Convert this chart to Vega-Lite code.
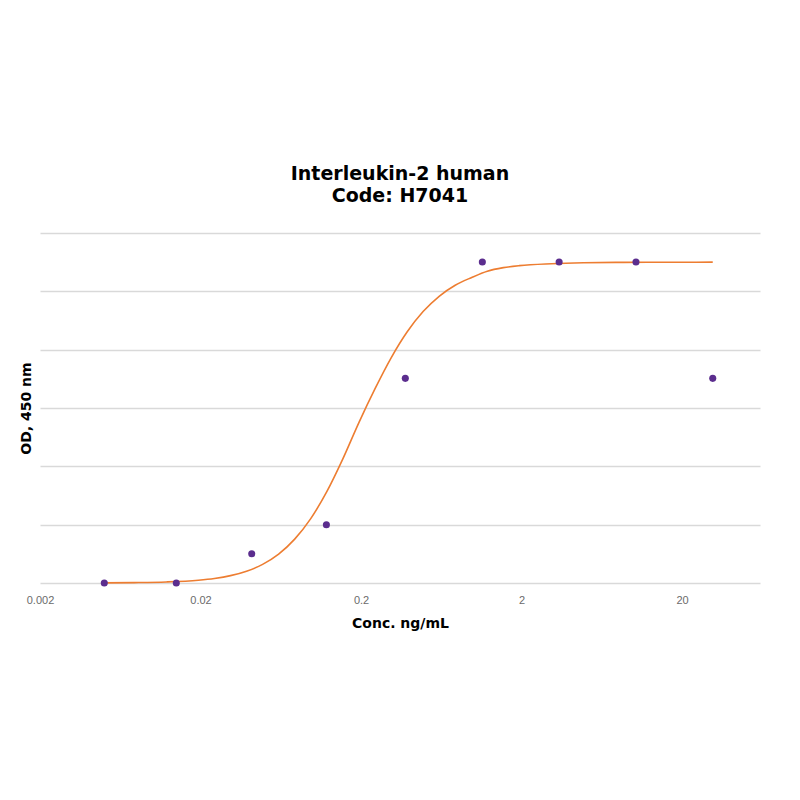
{
  "$schema": "https://vega.github.io/schema/vega-lite/v6.json",
  "width": 720,
  "height": 350,
  "autosize": "none",
  "padding": {"left": 40, "top": 233, "right": 40, "bottom": 217},
  "background": "white",
  "title": {
    "text": ["Interleukin-2 human", "Code: H7041"],
    "font": "DejaVu Sans",
    "fontSize": 19,
    "fontWeight": "bold",
    "color": "#000000",
    "lineHeight": 22,
    "offset": 27,
    "anchor": "middle"
  },
  "config": {"view": {"stroke": null}},
  "datasets": {
    "measured": [
      {"conc": 0.00503, "od": 0.0},
      {"conc": 0.01413, "od": 0.0},
      {"conc": 0.0417, "od": 0.25},
      {"conc": 0.1217, "od": 0.5},
      {"conc": 0.3776, "od": 1.754},
      {"conc": 1.14, "od": 2.751},
      {"conc": 3.43, "od": 2.751},
      {"conc": 10.33, "od": 2.751},
      {"conc": 31.07, "od": 1.754}
    ],
    "fit": [
      {"conc": 0.00503, "od": 0.0015},
      {"conc": 0.00772, "od": 0.0035},
      {"conc": 0.01224, "od": 0.009},
      {"conc": 0.0194, "od": 0.024},
      {"conc": 0.02442, "od": 0.039},
      {"conc": 0.03075, "od": 0.063},
      {"conc": 0.03871, "od": 0.101},
      {"conc": 0.04873, "od": 0.16},
      {"conc": 0.06135, "od": 0.248},
      {"conc": 0.07723, "od": 0.3762},
      {"conc": 0.09723, "od": 0.5522},
      {"conc": 0.12241, "od": 0.7829},
      {"conc": 0.1541, "od": 1.064},
      {"conc": 0.194, "od": 1.375},
      {"conc": 0.2442, "od": 1.6635},
      {"conc": 0.3075, "od": 1.9278},
      {"conc": 0.3871, "od": 2.1508},
      {"conc": 0.4873, "od": 2.3265},
      {"conc": 0.6135, "od": 2.4577},
      {"conc": 0.7723, "od": 2.552},
      {"conc": 0.9723, "od": 2.6172},
      {"conc": 1.2241, "od": 2.673},
      {"conc": 1.541, "od": 2.703},
      {"conc": 1.94, "od": 2.72},
      {"conc": 3.075, "od": 2.736},
      {"conc": 4.873, "od": 2.7445},
      {"conc": 7.723, "od": 2.748},
      {"conc": 12.24, "od": 2.749},
      {"conc": 19.4, "od": 2.7497},
      {"conc": 31.07, "od": 2.75}
    ]
  },
  "encoding": {
    "x": {
      "field": "conc",
      "type": "quantitative",
      "scale": {"type": "log", "domain": [0.002, 61.2], "nice": false},
      "axis": {
        "values": [0.002, 0.02, 0.2, 2, 20],
        "format": "~g",
        "grid": false,
        "ticks": false,
        "domain": false,
        "labelFlush": false,
        "labelOverlap": false,
        "labelFont": "Liberation Sans",
        "labelFontSize": 11,
        "labelColor": "#6b6b6b",
        "labelPadding": 11,
        "title": "Conc. ng/mL",
        "titleFont": "DejaVu Sans",
        "titleFontSize": 14,
        "titleFontWeight": "bold",
        "titleColor": "#000000",
        "titlePadding": 11
      }
    },
    "y": {
      "field": "od",
      "type": "quantitative",
      "scale": {"domain": [0, 3], "nice": false},
      "axis": {
        "values": [0, 0.5, 1, 1.5, 2, 2.5, 3],
        "labels": false,
        "ticks": false,
        "domain": false,
        "grid": true,
        "gridColor": "#d9d9d9",
        "gridWidth": 1.5,
        "title": "OD, 450 nm",
        "titleFont": "DejaVu Sans",
        "titleFontSize": 14,
        "titleFontWeight": "bold",
        "titleColor": "#000000",
        "titlePadding": 7
      }
    }
  },
  "layer": [
    {
      "data": {"name": "fit"},
      "mark": {"type": "line", "color": "#ed7d31", "strokeWidth": 1.6, "interpolate": "monotone"}
    },
    {
      "data": {"name": "measured"},
      "mark": {"type": "circle", "color": "#5b2d8e", "opacity": 1, "size": 50}
    }
  ]
}
